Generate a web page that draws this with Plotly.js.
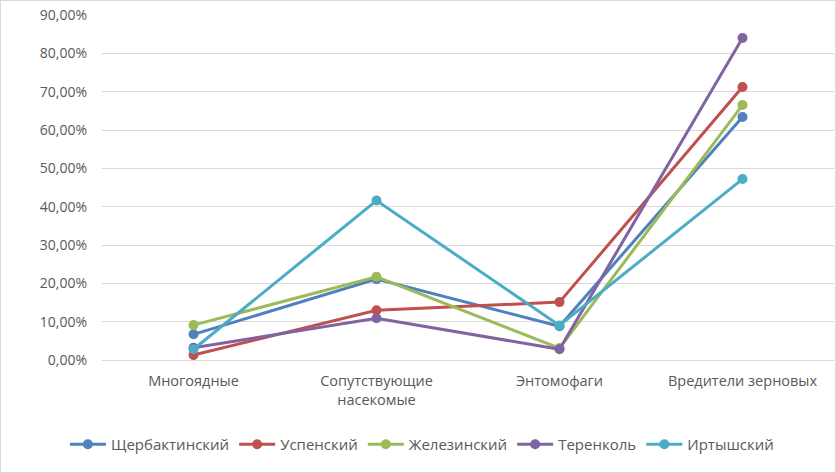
<!DOCTYPE html>
<html>
<head>
<meta charset="utf-8">
<script src="https://cdn.plot.ly/plotly-3.0.1.min.js"></script>
<style>
html,body{margin:0;padding:0;background:#fff;}
#chart{width:836px;height:473px;box-sizing:border-box;border:1px solid #D9D9D9;}
</style>
</head>
<body>
<div id="chart"></div>
<script>
const categories = ["Многоядные", "Сопутствующие<br>насекомые", "Энтомофаги", "Вредители зерновых"];
const seriesNames = ["Щербактинский", "Успенский", "Железинский", "Теренколь", "Иртышский"];
const shcherbakty = [0.067, 0.211, 0.088, 0.634];
const uspensky = [0.013, 0.130, 0.151, 0.712];
const zhelezinsky = [0.091, 0.217, 0.031, 0.665];
const terenkol = [0.032, 0.109, 0.028, 0.840];
const irtyshsky = [0.028, 0.416, 0.090, 0.472];
const seriesValues = [shcherbakty, uspensky, zhelezinsky, terenkol, irtyshsky];
const colors = ["#4F81BD", "#C0504D", "#9BBB59", "#8064A2", "#4BACC6"];
const yTicks = [0, 0.1, 0.2, 0.3, 0.4, 0.5, 0.6, 0.7, 0.8, 0.9];

const traces = seriesNames.map((n, i) => ({
  x: categories,
  y: seriesValues[i],
  name: n,
  type: 'scatter',
  mode: 'lines+markers',
  line: {color: colors[i], width: 3},
  marker: {color: colors[i], size: 10}
}));

const layout = {
  width: 834, height: 471,
  margin: {l: 101, r: 1, t: 14, b: 112},
  paper_bgcolor: '#fff', plot_bgcolor: '#fff',
  separators: ', ',
  font: {family: 'Open Sans, Liberation Sans, sans-serif', size: 14, color: '#595959'},
  showlegend: true,
  legend: {orientation: 'h', x: 0.437, xanchor: 'center', y: -0.245, yanchor: 'middle',
           font: {size: 15, color: '#595959'}, itemwidth: 36, tracegroupgap: 0},
  xaxis: {type: 'category', range: [-0.5, 3.5], showgrid: false, zeroline: false, showline: true, linecolor: '#D9D9D9', linewidth: 1,
          ticks: '', ticklabelstandoff: 8, tickfont: {size: 14.5, color: '#595959'}, fixedrange: true},
  yaxis: {range: [0, 0.9], tickvals: yTicks, tickformat: '.2%', showgrid: true, gridcolor: '#D9D9D9', gridwidth: 1,
          zeroline: false, showline: false, ticks: '', ticklabelstandoff: 14, tickfont: {size: 14, color: '#595959'}, fixedrange: true}
};
Plotly.newPlot('chart', traces, layout, {displayModeBar: false, staticPlot: true});
</script>
</body>
</html>
